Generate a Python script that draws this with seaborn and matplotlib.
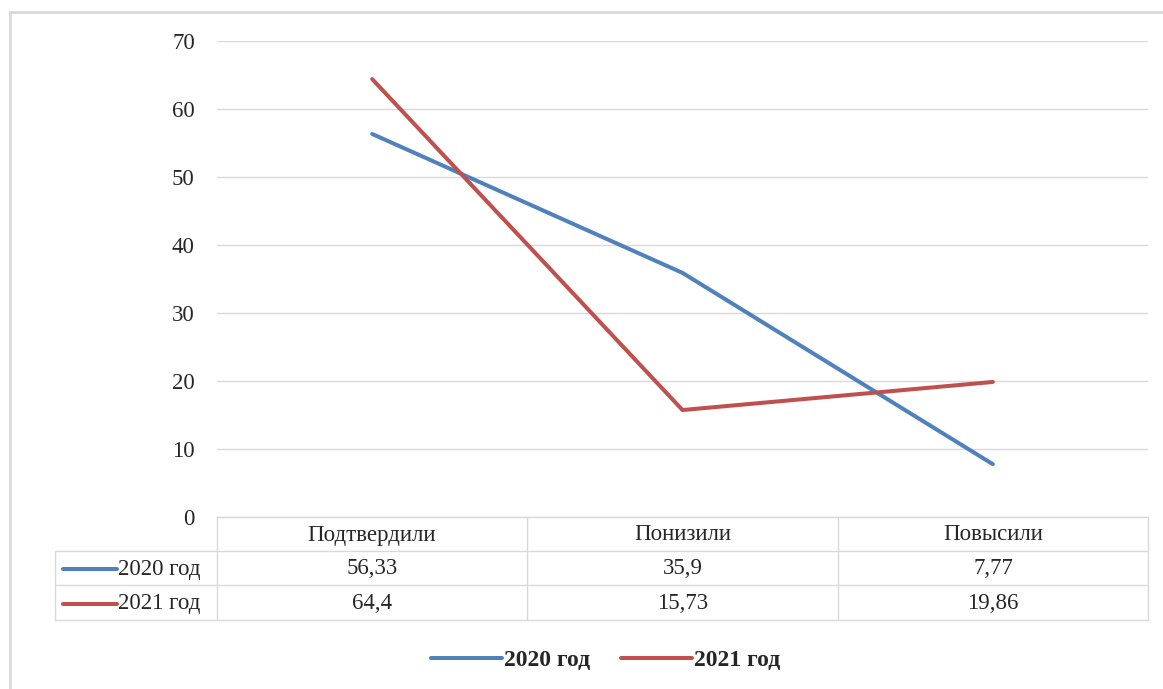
import pandas as pd
import matplotlib
matplotlib.use("Agg")
import matplotlib.pyplot as plt
import seaborn as sns
from matplotlib.lines import Line2D

# data
categories = ["Подтвердили", "Понизили", "Повысили"]
series_names = ["2020 год", "2021 год"]
values_2020 = [56.33, 35.9, 7.77]
values_2021 = [64.4, 15.73, 19.86]
value_labels_2020 = ["56,33", "35,9", "7,77"]
value_labels_2021 = ["64,4", "15,73", "19,86"]
yticks = [0, 10, 20, 30, 40, 50, 60, 70]

colors = ["#4F81BD", "#C0504D"]

df = pd.DataFrame({
    "cat": categories * 2,
    "val": values_2020 + values_2021,
    "series": [series_names[0]] * 3 + [series_names[1]] * 3,
})

sns.set_style("white")
plt.rcParams["font.family"] = ["Liberation Serif", "DejaVu Serif"]

W, H = 1163, 689
fs = 16.5
fig = plt.figure(figsize=(W / 100, H / 100), dpi=100)

# pixel helpers
def fx(px):
    return px / W

def fy(py):
    return 1 - py / H

left, right, top, bottom = 217, 1148, 41, 517
ax = fig.add_axes([fx(left), fy(bottom), fx(right) - fx(left), fy(top) - fy(bottom)])

sns.lineplot(data=df, x="cat", y="val", hue="series", palette=colors,
             linewidth=2.9, sort=False, ax=ax, legend=False)
for l in ax.lines:
    l.set_solid_capstyle("round")

ax.set_xlim(-0.5, 2.5)
ax.set_ylim(0, 70)
ax.set_yticks(yticks)
ax.set_yticklabels([str(t) for t in yticks], fontsize=fs)
ax.tick_params(axis="y", length=0, pad=16)
ax.set_xticks([])
ax.set_xlabel("")
ax.set_ylabel("")
ax.yaxis.grid(True, color="#d9d9d9", linewidth=1)
for s in ax.spines.values():
    s.set_visible(False)

# table overlay in pixel coordinates
ov = fig.add_axes([0, 0, 1, 1], facecolor="none")
ov.set_xlim(0, W)
ov.set_ylim(H, 0)
ov.axis("off")

grid_c = "#d9d9d9"
row_y = [517, 551, 585, 620]
col_x = [217, 527, 838, 1148]
label_left = 55

# horizontal lines
ov.plot([217, 1148], [517, 517], color=grid_c, lw=1)
for y in row_y[1:]:
    ov.plot([label_left, 1148], [y, y], color=grid_c, lw=1)
# vertical lines
for x in col_x:
    ov.plot([x, x], [517, 620], color=grid_c, lw=1)
ov.plot([label_left, label_left], [551, 620], color=grid_c, lw=1)

# header row
for i, c in enumerate(categories):
    xc = (col_x[i] + col_x[i + 1]) / 2
    ov.text(xc, (row_y[0] + row_y[1]) / 2 + 1, c, ha="center", va="center", fontsize=fs)

# data rows
rows = [value_labels_2020, value_labels_2021]
for r, (name, labels) in enumerate(zip(series_names, rows)):
    yc = (row_y[r + 1] + row_y[r + 2]) / 2 + 1
    ov.plot([63, 117], [yc, yc], color=colors[r], lw=2.9, solid_capstyle="round")
    ov.text(118, yc, name, ha="left", va="center", fontsize=fs)
    for i, lab in enumerate(labels):
        xc = (col_x[i] + col_x[i + 1]) / 2
        ov.text(xc, yc, lab, ha="center", va="center", fontsize=fs)

# outer frame (top and left)
ov.plot([10, W], [12, 12], color="#d9d9d9", lw=2)
ov.plot([10, 10], [12, H], color="#d9d9d9", lw=2)

# legend
handles = [Line2D([0], [0], color=c, lw=2.9, solid_capstyle="round") for c in colors]
fig.legend(handles, series_names, loc="center", bbox_to_anchor=(fx(606), fy(660)),
           ncol=2, frameon=False, handlelength=3.0, handletextpad=0.1, columnspacing=1.3,
           prop={"family": "Liberation Serif", "weight": "bold", "size": 17})

fig.savefig("out.png", dpi=100)
